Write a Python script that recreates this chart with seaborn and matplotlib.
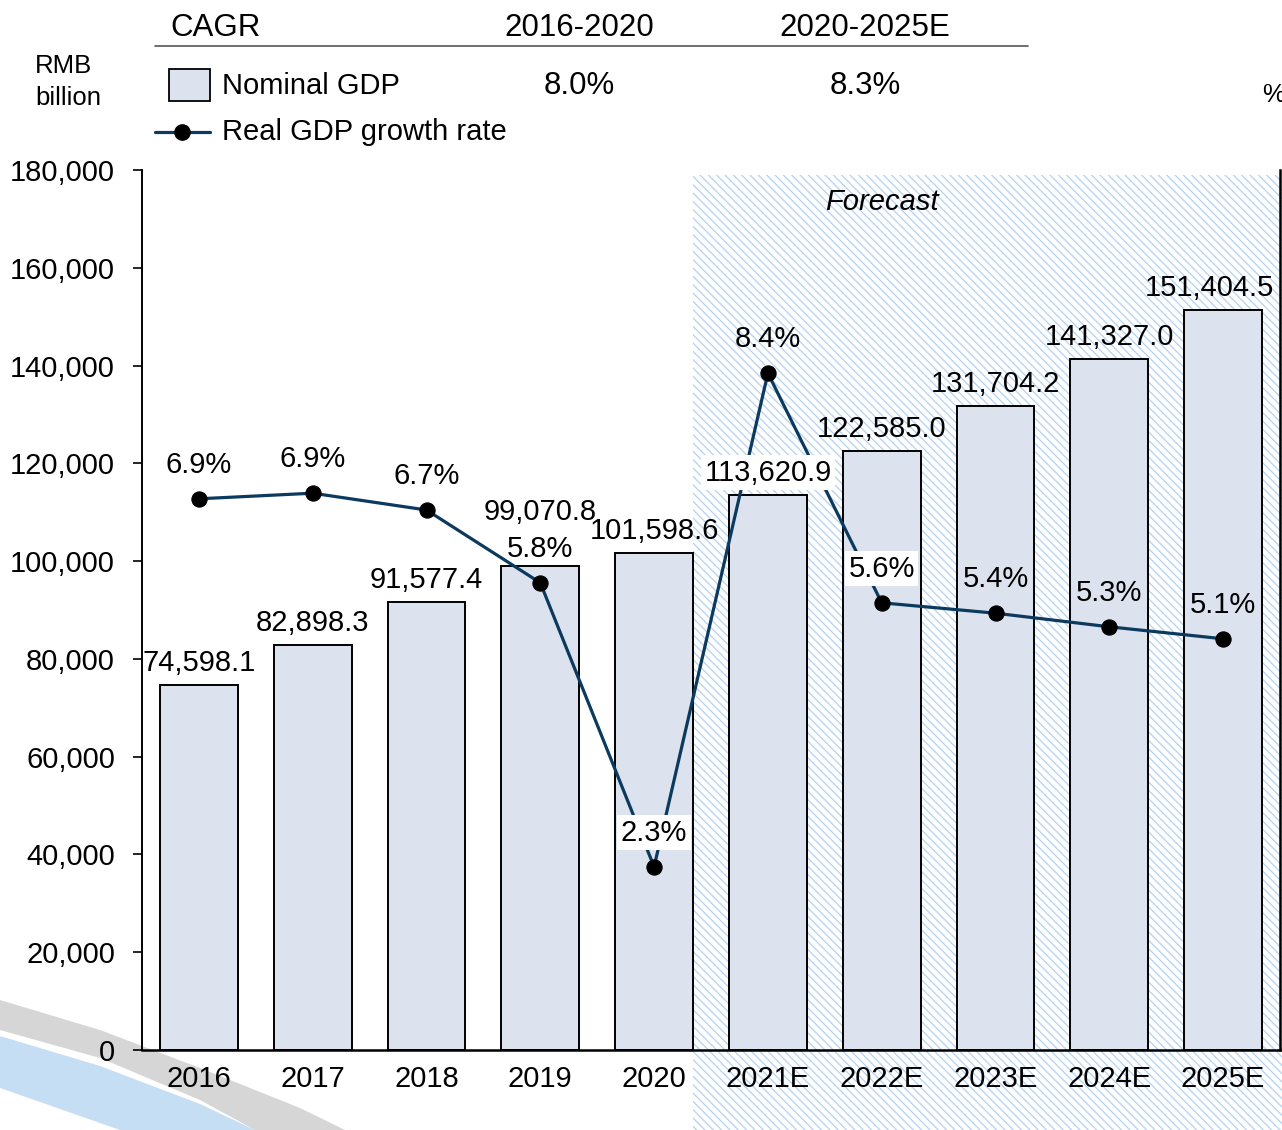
import matplotlib
matplotlib.use('Agg')
import matplotlib.pyplot as plt
import matplotlib.transforms as mtransforms
from matplotlib.patches import Rectangle, Polygon
from matplotlib.lines import Line2D
from matplotlib.ticker import FuncFormatter
import seaborn as sns
import numpy as np
import pandas as pd

# ---------------- data ----------------
years = ['2016', '2017', '2018', '2019', '2020',
         '2021E', '2022E', '2023E', '2024E', '2025E']
nominal_gdp = [74598.1, 82898.3, 91577.4, 99070.8, 101598.6,
               113620.9, 122585.0, 131704.2, 141327.0, 151404.5]
real_growth = [6.89, 6.96, 6.75, 5.84, 2.29, 8.46, 5.59, 5.46, 5.29, 5.14]
growth_labels = ['6.9%', '6.9%', '6.7%', '5.8%', '2.3%',
                 '8.4%', '5.6%', '5.4%', '5.3%', '5.1%']
cagr_periods = ['2016-2020', '2020-2025E']
cagr_values = ['8.0%', '8.3%']
forecast_start = '2021E'

# ---------------- styles ----------------
W, H = 1282, 1130
bar_color = '#DDE3EE'
line_color = '#0B3A5E'
hatch_color = '#B3D2F3'
boxed_bar_labels = {'2021E'}
boxed_growth_labels = {'2020', '2022E'}
bar_label_shift = {'2025E': (-10, 0), '2019': (0, 22.5)}

sns.set_style('white')
plt.rcParams['font.family'] = ['Liberation Sans', 'DejaVu Sans']
plt.rcParams['hatch.linewidth'] = 0.9
plt.rcParams['text.color'] = 'black'
plt.rcParams['xtick.color'] = 'black'
plt.rcParams['ytick.color'] = 'black'
plt.rcParams['axes.labelcolor'] = 'black'

fig = plt.figure(figsize=(W / 100, H / 100), dpi=100)


def fx(x):
    return x / W


def fy(y):
    return 1 - y / H


# decorative swoosh bottom-left
gray_band = [(0, 1000), (100, 1030), (200, 1068), (300, 1108), (345, 1130),
             (255, 1130), (200, 1100), (100, 1058), (0, 1030)]
blue_band = [(0, 1036), (100, 1066), (200, 1104), (255, 1130),
             (120, 1130), (0, 1088)]
fig.add_artist(Polygon([(fx(a), fy(b)) for a, b in gray_band], closed=True,
                       transform=fig.transFigure, facecolor='#C9C9C9',
                       edgecolor='none', alpha=0.75, zorder=-3))
fig.add_artist(Polygon([(fx(a), fy(b)) for a, b in blue_band], closed=True,
                       transform=fig.transFigure, facecolor='#B4D3F1',
                       edgecolor='none', alpha=0.75, zorder=-3))

ax = fig.add_axes([fx(142), fy(1050), fx(1280) - fx(142), fy(170) - fy(1050)])
ax.set_facecolor('none')

df = pd.DataFrame({'year': years, 'gdp': nominal_gdp})
bar_w = 0.685
sns.barplot(data=df, x='year', y='gdp', ax=ax, color=bar_color, saturation=1,
            width=bar_w, edgecolor='black', linewidth=1.4, zorder=2)

# forecast hatched zone
fc_idx = years.index(forecast_start)
trans_blend = mtransforms.blended_transform_factory(ax.transData, fig.transFigure)
fig.add_artist(Rectangle((fc_idx - 1 + bar_w / 2, 0), 20, fy(175),
                         transform=trans_blend, facecolor='white',
                         edgecolor=hatch_color, hatch='\\\\\\\\', linewidth=0,
                         zorder=-1))

ax.set_xlim(-0.5, len(years) - 0.5)
ax.set_ylim(0, 180000)
ax.set_yticks(np.arange(0, 180001, 20000))
ax.yaxis.set_major_formatter(FuncFormatter(lambda v, p: f'{v:,.0f}'))
ax.tick_params(axis='y', length=6.5, width=1.2, direction='out', pad=13,
               labelsize=21, left=True, color='black', labelcolor='black')
ax.tick_params(axis='x', length=0, pad=11, labelsize=21, labelcolor='black')
ax.set_xlabel('')
ax.set_ylabel('')
ax.spines['top'].set_visible(False)
for s, lw in [('left', 1.4), ('bottom', 1.8), ('right', 1.8)]:
    ax.spines[s].set_color('black')
    ax.spines[s].set_linewidth(lw)

trans_ax = mtransforms.blended_transform_factory(ax.transData, ax.transAxes)
ax.text(fc_idx + 1, 0.964, 'Forecast', transform=trans_ax,
        style='italic', ha='center', va='center', fontsize=21, color='black')

# growth line on secondary axis
ax2 = ax.twinx()
xs = np.arange(len(years))
sns.lineplot(x=xs, y=real_growth, ax=ax2, color=line_color, linewidth=2.3,
             marker='o', markersize=11, markerfacecolor='black',
             markeredgecolor='black', zorder=3)
ax2.set_ylim(0, 11)
ax2.set_xlim(-0.5, len(years) - 0.5)
ax2.set_yticks([])
ax2.set_ylabel('')
for s in ax2.spines.values():
    s.set_visible(False)

# bar labels
for i, (yr, v) in enumerate(zip(years, nominal_gdp)):
    kw = {}
    if yr in boxed_bar_labels:
        kw['bbox'] = dict(boxstyle='square,pad=0.12', facecolor='white',
                          edgecolor='none')
    dx, dy = bar_label_shift.get(yr, (0, 0))
    ax2.annotate(f'{v:,.1f}', xy=(i, v), xycoords=ax.transData,
                 xytext=(dx, 15.8 + dy),
                 textcoords='offset points', ha='center', va='center',
                 fontsize=21, zorder=6, color='black', **kw)

# growth labels
for i, (yr, g, lbl) in enumerate(zip(years, real_growth, growth_labels)):
    kw = {}
    if yr in boxed_growth_labels:
        kw['bbox'] = dict(boxstyle='square,pad=0.12', facecolor='white',
                          edgecolor='none')
    ax2.annotate(lbl, xy=(i, g), xytext=(0, 24.5), textcoords='offset points',
                 ha='center', va='center', fontsize=21, zorder=6,
                 color='black', **kw)

# header / legend table
fig.add_artist(Line2D([fx(155), fx(1028)], [fy(46), fy(46)],
                      transform=fig.transFigure, color='#555555', lw=1.2))
fig.text(fx(170), fy(28), 'CAGR', ha='left', va='center', fontsize=22.5)
for cx, per, val in zip([579, 865], cagr_periods, cagr_values):
    fig.text(fx(cx), fy(28), per, ha='center', va='center', fontsize=22.5)
    fig.text(fx(cx), fy(86), val, ha='center', va='center', fontsize=22.5)

fig.text(fx(35), fy(66), 'RMB', ha='left', va='center', fontsize=18.5)
fig.text(fx(35), fy(98), 'billion', ha='left', va='center', fontsize=18.5)

fig.add_artist(Rectangle((fx(169), fy(101)), fx(210) - fx(169), fy(69) - fy(101),
                         transform=fig.transFigure, facecolor=bar_color,
                         edgecolor='black', linewidth=1.3))
fig.text(fx(222), fy(86), 'Nominal GDP', ha='left', va='center', fontsize=21)
fig.add_artist(Line2D([fx(155), fx(210)], [fy(132), fy(132)],
                      transform=fig.transFigure, color=line_color, lw=2.3))
fig.add_artist(Line2D([fx(182)], [fy(132)], transform=fig.transFigure,
                      marker='o', markersize=11, color='black', lw=0))
fig.text(fx(222), fy(132), 'Real GDP growth rate', ha='left', va='center',
         fontsize=21)
fig.text(fx(1262), fy(95), '%', ha='left', va='center', fontsize=18.5)

fig.savefig('out.png', dpi=100)
